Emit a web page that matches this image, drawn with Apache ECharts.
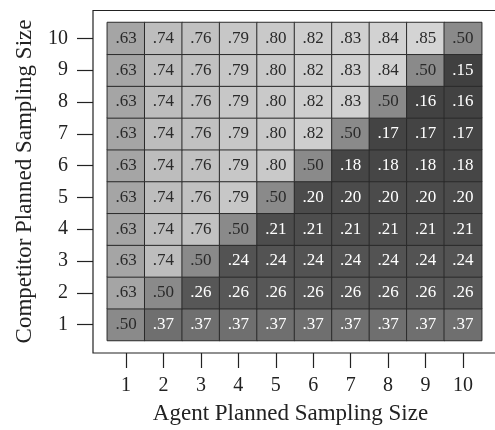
<!DOCTYPE html>
<html>
<head>
<meta charset="utf-8">
<script src="https://cdn.jsdelivr.net/npm/echarts@6/dist/echarts.min.js"></script>
<style>
  html, body { margin: 0; padding: 0; background: #fff; }
  #chart { width: 495px; height: 430px; }
</style>
</head>
<body>
<div id="chart"></div>
<script>
// Planned sampling sizes on both axes
const agentSizes = ['1', '2', '3', '4', '5', '6', '7', '8', '9', '10'];
const competitorSizes = ['1', '2', '3', '4', '5', '6', '7', '8', '9', '10'];

// Agent payoff, one array per competitor sampling size (columns = agent size 1..10)
const competitor1  = [0.50, 0.37, 0.37, 0.37, 0.37, 0.37, 0.37, 0.37, 0.37, 0.37];
const competitor2  = [0.63, 0.50, 0.26, 0.26, 0.26, 0.26, 0.26, 0.26, 0.26, 0.26];
const competitor3  = [0.63, 0.74, 0.50, 0.24, 0.24, 0.24, 0.24, 0.24, 0.24, 0.24];
const competitor4  = [0.63, 0.74, 0.76, 0.50, 0.21, 0.21, 0.21, 0.21, 0.21, 0.21];
const competitor5  = [0.63, 0.74, 0.76, 0.79, 0.50, 0.20, 0.20, 0.20, 0.20, 0.20];
const competitor6  = [0.63, 0.74, 0.76, 0.79, 0.80, 0.50, 0.18, 0.18, 0.18, 0.18];
const competitor7  = [0.63, 0.74, 0.76, 0.79, 0.80, 0.82, 0.50, 0.17, 0.17, 0.17];
const competitor8  = [0.63, 0.74, 0.76, 0.79, 0.80, 0.82, 0.83, 0.50, 0.16, 0.16];
const competitor9  = [0.63, 0.74, 0.76, 0.79, 0.80, 0.82, 0.83, 0.84, 0.50, 0.15];
const competitor10 = [0.63, 0.74, 0.76, 0.79, 0.80, 0.82, 0.83, 0.84, 0.85, 0.50];

const rows = [competitor1, competitor2, competitor3, competitor4, competitor5,
              competitor6, competitor7, competitor8, competitor9, competitor10];

// Cells as {value: [x, y, payoff]} with white text on the darker shades
const cells = [];
rows.forEach((row, yi) => {
  row.forEach((v, xi) => cells.push({
    value: [xi, yi, v],
    label: { color: v < 0.5 ? '#fff' : '#2a2a2a' }
  }));
});

const fmt = v => v.toFixed(2).replace(/^0/, '');
const FONT = 'Liberation Serif';

const chart = echarts.init(document.getElementById('chart'), null, { renderer: 'canvas' });
chart.setOption({
  animation: false,
  backgroundColor: '#fff',
  grid: { left: 107.3, top: 22.5, width: 374.4, height: 318, containLabel: false },
  graphic: [{
    type: 'rect',
    shape: { x: 93, y: 10.5, width: 410, height: 342.5 },
    style: { fill: 'none', stroke: '#222', lineWidth: 1.2 },
    z: 10
  }],
  xAxis: {
    type: 'category',
    data: agentSizes,
    offset: 12.5,
    axisLine: { show: false },
    axisTick: { show: true, alignWithLabel: true, length: 15, lineStyle: { color: '#222', width: 1.2 } },
    axisLabel: { margin: 23, fontFamily: FONT, fontSize: 20, color: '#222' },
    splitLine: { show: false },
    name: 'Agent Planned Sampling Size',
    nameLocation: 'middle',
    nameGap: 49,
    nameTextStyle: { fontFamily: FONT, fontSize: 23, color: '#222', padding: [0, 8, 0, 0] }
  },
  yAxis: {
    type: 'category',
    data: competitorSizes,
    offset: 14.3,
    axisLine: { show: false },
    axisTick: { show: true, alignWithLabel: true, length: 16, lineStyle: { color: '#222', width: 1.2 } },
    axisLabel: { margin: 25, fontFamily: FONT, fontSize: 20, color: '#222' },
    splitLine: { show: false },
    name: 'Competitor Planned Sampling Size',
    nameLocation: 'middle',
    nameGap: 57,
    nameTextStyle: { fontFamily: FONT, fontSize: 23, color: '#222' }
  },
  visualMap: {
    show: false,
    type: 'continuous',
    min: 0.15,
    max: 0.85,
    dimension: 2,
    inRange: { color: ['#404040', '#d4d4d4'] }
  },
  series: [{
    type: 'heatmap',
    data: cells,
    itemStyle: { borderColor: '#2a2a2a', borderWidth: 1 },
    label: {
      show: true,
      fontFamily: FONT,
      fontSize: 17,
      formatter: p => fmt(p.value[2])
    },
    emphasis: { disabled: true }
  }]
});
</script>
</body>
</html>
